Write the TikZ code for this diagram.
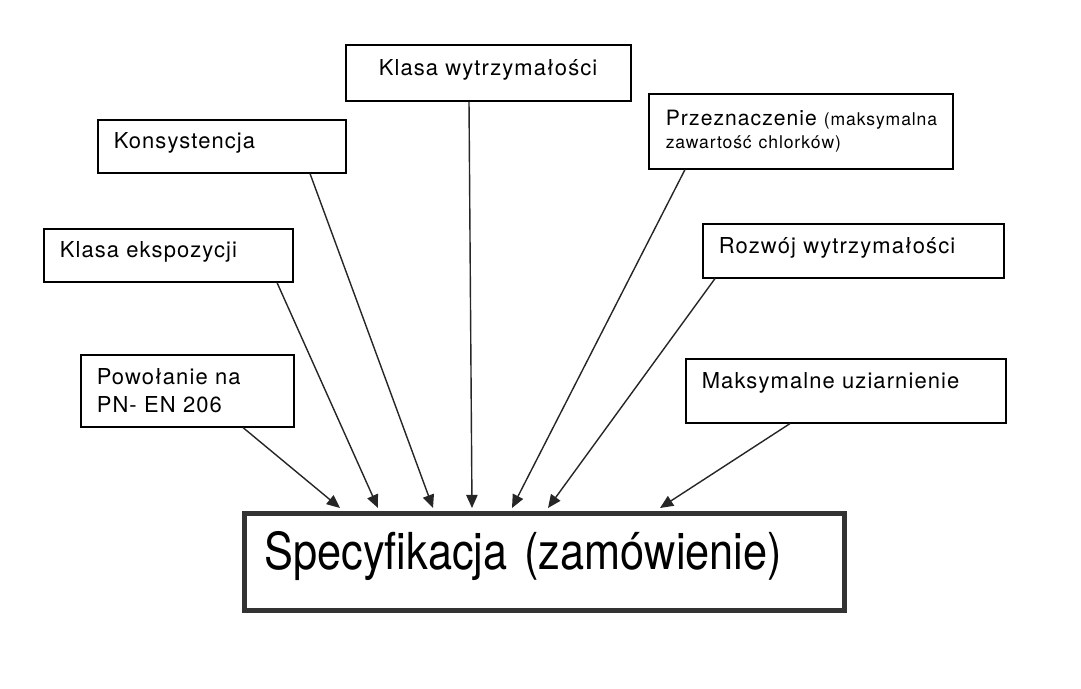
\documentclass[tikz,border=0pt]{standalone}
\usepackage{fontspec}
\newfontfamily\boxfont[LetterSpace=5,WordSpace=1.8]{TeX Gyre Heros}
\newfontfamily\specfont[FakeStretch=0.85]{TeX Gyre Heros}
\usetikzlibrary{arrows.meta, positioning, calc}

\begin{document}
\begin{tikzpicture}[
    x=0.02cm, y=-0.02cm,
    >={Triangle[length=7.5pt,width=6.5pt]},
    box/.style={draw, line width=0.9pt, anchor=north west, align=left, inner ysep=0pt, inner xsep=0.32cm, font=\boxfont\fontsize{12.5}{15.9}\selectfont},
    oneline/.style={text height=0.34cm, text depth=0.24cm},
    spec/.style={draw=black!80, line width=2.8pt, anchor=north west, align=left, inner ysep=0pt, inner xsep=0.4cm, font=\specfont\fontsize{29}{34}\selectfont},
    arrow/.style={->, line width=0.8pt, black!85}
]
\useasboundingbox (0,0) rectangle (1081,689);

% Upper boxes
\node[box, oneline, minimum height=1.12cm, text width=4.38cm, inner xsep=0.66cm] (strength) at (345,44) {Klasa wytrzymałości};
\node[box, oneline, minimum height=1.06cm, text width=4.32cm] (consist) at (97,119) {Konsystencja};
\node[box, minimum height=1.5cm, text width=5.40cm, inner xsep=0.34cm, font=\boxfont\fontsize{12}{13}\selectfont] (purpose) at (648,93)
    {\mbox{Przeznaczenie {\fontsize{10}{13}\selectfont(maksymalna}}\\{\fontsize{10}{13}\selectfont zawartość chlorków)}};

% Middle boxes
\node[box, oneline, minimum height=1.06cm, text width=4.34cm] (exposure) at (43,228) {Klasa ekspozycji};
\node[box, oneline, minimum height=1.08cm, text width=5.38cm] (growth) at (702,223) {Rozwój wytrzymałości};

% Lower boxes
\node[box, minimum height=1.44cm, text width=3.62cm] (pow) at (80,354) {Powołanie na\\PN- EN 206};
\node[box, text height=0.34cm, text depth=0.44cm, minimum height=1.28cm, text width=5.76cm] (maxagg) at (685,358) {Maksymalne uziarnienie};

% Specification
\node[spec, text height=0.77cm, text depth=0.47cm, minimum height=1.94cm, text width=11.2cm] (order) at (242,511) {Specyfikacja (zamówienie)};

\draw[arrow] ($(pow.south west)+(163,0)$) -- ($(order.north west)+(98,-3)$);
\draw[arrow] ($(exposure.south west)+(234,0)$) -- ($(order.north west)+(136,-3)$);
\draw[arrow] ($(consist.south west)+(213,0)$) -- ($(order.north west)+(191,-3)$);
\draw[arrow] ($(strength.south west)+(124,0)$) -- ($(order.north west)+(230,-3)$);
\draw[arrow] ($(purpose.south west)+(37,0)$) -- ($(order.north west)+(270,-3)$);
\draw[arrow] ($(growth.south west)+(13,0)$) -- ($(order.north west)+(306,-3)$);
\draw[arrow] ($(maxagg.south west)+(105,0)$) -- ($(order.north west)+(418,-3)$);

\end{tikzpicture}
\end{document}
